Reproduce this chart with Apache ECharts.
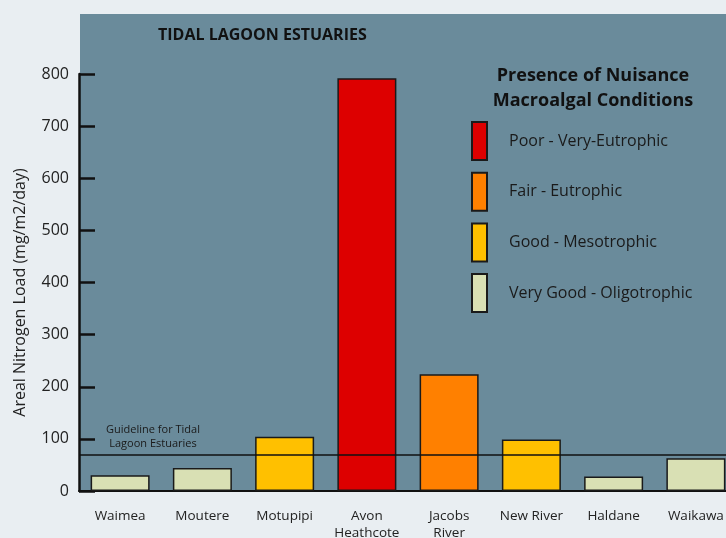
<!DOCTYPE html>
<html>
<head>
<meta charset="utf-8">
<script src="https://cdn.jsdelivr.net/npm/echarts@6/dist/echarts.min.js"></script>
<style>
  html, body { margin: 0; padding: 0; background: #e9eef2; }
  #ch1 { width: 726px; height: 538px; }
</style>
</head>
<body>
<div id="ch1"></div>
<script>
var sites = ['Waimea', 'Moutere', 'Motupipi', 'Avon\nHeathcote', 'Jacobs\nRiver', 'New River', 'Haldane', 'Waikawa'];
var loads = [30, 44, 104, 792, 224, 99, 28, 63];
// condition class of each site (index into conditions)
var siteClass = [3, 3, 2, 0, 1, 2, 3, 3];
var conditions = ['Poor - Very-Eutrophic', 'Fair - Eutrophic', 'Good - Mesotrophic', 'Very Good - Oligotrophic'];
var condColors = ['#dd0000', '#ff8000', '#ffc000', '#d9e0b4'];
var yTicks = [0, 100, 200, 300, 400, 500, 600, 700, 800];
var guideline = 70;

window.onload = function() {
  var ch1 = echarts.init(document.getElementById('ch1'));
  var font = 'Open Sans';

  var series = conditions.map(function(name, c) {
    var s = {
      name: name,
      type: 'bar',
      stack: 'all',
      barWidth: 59,
      data: loads.map(function(v, i) { return siteClass[i] === c ? v : '-'; }),
      itemStyle: {
        color: condColors[c],
        borderColor: '#1a1a1a',
        borderWidth: 1.5
      }
    };
    if (c === 0) {
      s.markLine = {
        silent: true,
        symbol: 'none',
        label: { show: false },
        lineStyle: { color: '#111', width: 1.5, type: 'solid' },
        data: [{ yAxis: guideline }]
      };
    }
    return s;
  });

  var op1 = {
    backgroundColor: '#e9eef2',
    animation: false,
    textStyle: { fontFamily: font },
    graphic: [
      {
        type: 'rect', z: -10,
        shape: { x: 80, y: 14, width: 660, height: 477 },
        style: { fill: '#6a8b9b' }
      },
      {
        type: 'text', left: 158, top: 27,
        style: { text: 'TIDAL LAGOON ESTUARIES', font: 'bold 16px "Open Sans"', fill: '#111' }
      },
      {
        type: 'text', x: 593, y: 63,
        style: {
          text: 'Presence of Nuisance\nMacroalgal Conditions',
          font: 'bold 18px "Open Sans"', fill: '#111', align: 'center', lineHeight: 25
        }
      },
      {
        type: 'text', x: 153, y: 423,
        style: {
          text: 'Guideline for Tidal\nLagoon Estuaries',
          font: '11px "Open Sans"', fill: '#1a1a1a', align: 'center', lineHeight: 14
        }
      }
    ],
    legend: {
      orient: 'vertical',
      left: 471,
      top: 121,
      padding: 0,
      itemWidth: 15,
      itemHeight: 38,
      itemGap: 10.7,
      icon: 'rect',
      textStyle: { fontSize: 16, color: '#1a1a1a', fontFamily: font, padding: [0, 0, 0, 17] }
    },
    grid: {
      left: 79,
      width: 658,
      top: 74,
      bottom: 47,
      outerBoundsMode: 'none'
    },
    xAxis: {
      type: 'category',
      data: sites,
      axisLine: { lineStyle: { color: '#111', width: 2 } },
      axisTick: { inside: true, length: 10, lineStyle: { color: '#111', width: 2.5 } },
      axisLabel: { interval: 0, color: '#222', fontSize: 13.5, margin: 17, lineHeight: 17, fontFamily: font }
    },
    yAxis: {
      type: 'value',
      min: yTicks[0],
      max: yTicks[yTicks.length - 1],
      interval: 100,
      name: 'Areal Nitrogen Load (mg/m2/day)',
      nameLocation: 'middle',
      nameGap: 51,
      nameTextStyle: { color: '#222', fontSize: 16, fontFamily: font, padding: [0, 20, 0, 0] },
      splitLine: { show: false },
      axisLine: { show: true, lineStyle: { color: '#111', width: 2.5 } },
      axisTick: { show: true, inside: true, length: 16, lineStyle: { color: '#111', width: 2.5 } },
      axisLabel: { color: '#222', fontSize: 16, margin: 10, fontFamily: font }
    },
    series: series
  };

  ch1.setOption(op1);
};
</script>
</body>
</html>
